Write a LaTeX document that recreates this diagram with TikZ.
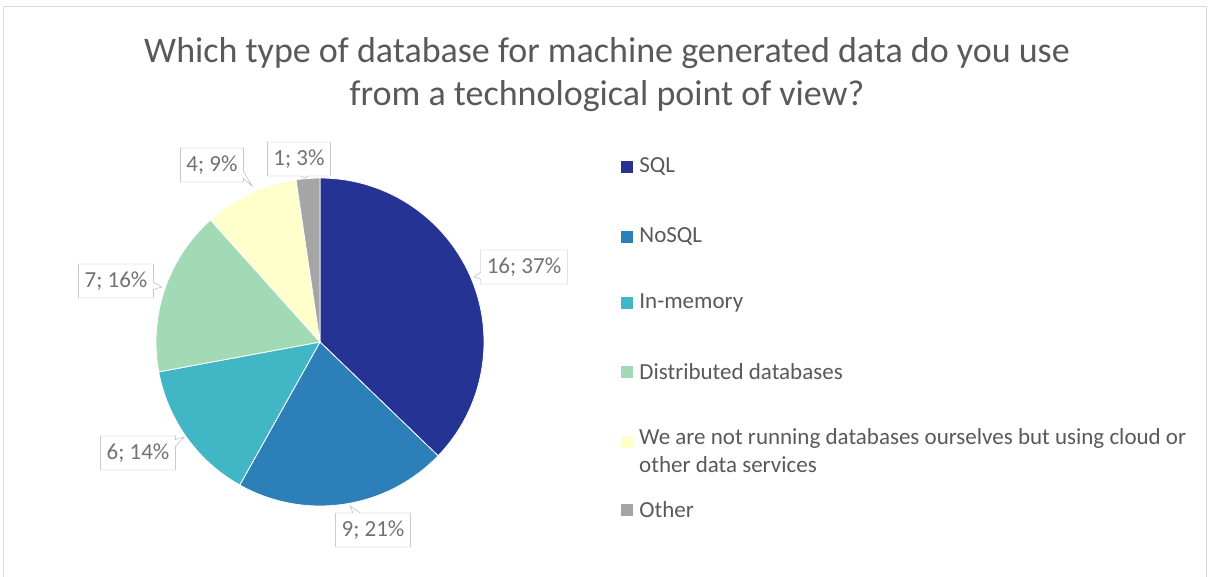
\documentclass[tikz,border=0pt]{standalone}
\usepackage{fontspec}
\setmainfont{Carlito}
\usetikzlibrary{positioning,shapes.callouts}
\definecolor{csql}{HTML}{253494}
\definecolor{cnosql}{HTML}{2C7FB8}
\definecolor{cmem}{HTML}{41B6C4}
\definecolor{cdist}{HTML}{A1DAB4}
\definecolor{ccloud}{HTML}{FFFFCC}
\definecolor{cother}{HTML}{A5A5A5}
\definecolor{ctext}{HTML}{595959}
\definecolor{cframe}{HTML}{D9D9D9}
\begin{document}
\begin{tikzpicture}[x=1pt,y=1pt,
  slice/.style={draw=white,line width=0.8pt},
  lbl/.style={rectangle callout,draw=cframe!80!black,fill=white,text=ctext!85,
              font=\fontsize{23}{28}\selectfont,inner xsep=6pt,inner ysep=2pt,
              minimum height=34pt},
  key/.style={minimum size=12pt,inner sep=0pt},
  item/.style={text=ctext,font=\fontsize{23}{28}\selectfont,align=left,inner sep=0pt},
  ttl/.style={text=ctext,font=\fontsize{36}{43}\selectfont,align=center}]
\useasboundingbox (0,0) rectangle (1209,577);
\draw[cframe] (3,0) |- (1206,571) -- (1206,0);
% title
\node[ttl] (title) at (607,502) {Which type of database for machine generated data do you use\\from a technological point of view?};
% pie
\coordinate (c) at (320,235);
\fill[csql,slice]   (c) -- ++(90:164)     arc[start angle=90,end angle=-43.95,radius=164] -- cycle;
\fill[cnosql,slice] (c) -- ++(-43.95:164) arc[start angle=-43.95,end angle=-119.3,radius=164] -- cycle;
\fill[cmem,slice]   (c) -- ++(-119.3:164) arc[start angle=-119.3,end angle=-169.5,radius=164] -- cycle;
\fill[cdist,slice]  (c) -- ++(-169.5:164) arc[start angle=-169.5,end angle=-228.1,radius=164] -- cycle;
\fill[ccloud,slice] (c) -- ++(131.9:164)  arc[start angle=131.9,end angle=98.4,radius=164] -- cycle;
\fill[cother,slice] (c) -- ++(98.4:164)   arc[start angle=98.4,end angle=90,radius=164] -- cycle;
% data labels
\coordinate (p1) at (474,300);
\coordinate (p2) at (350,71);
\coordinate (p3) at (184,140);
\coordinate (p4) at (162,290);
\coordinate (p5) at (252,391);
\coordinate (p6) at (305,399);
\node[lbl,callout absolute pointer={(p1)}] (l1) at (524,310) {16; 37\%};
\node[lbl,callout absolute pointer={(p2)}] (l2) at (373,47)  {9; 21\%};
\node[lbl,callout absolute pointer={(p3)}] (l3) at (138,124) {6; 14\%};
\node[lbl,callout absolute pointer={(p4)}] (l4) at (116,296) {7; 16\%};
\node[lbl,callout absolute pointer={(p5)}] (l5) at (212,412) {4; 9\%};
\node[lbl,callout absolute pointer={(p6)}] (l6) at (299,418) {1; 3\%};
% legend
\node[key,fill=csql]   (k1) at (627,410) {};
\node[key,fill=cnosql] (k2) at (627,340) {};
\node[key,fill=cmem]   (k3) at (627,274) {};
\node[key,fill=cdist]  (k4) at (627,205) {};
\node[key,fill=ccloud] (k5) at (627,135) {};
\node[key,fill=cother] (k6) at (627,67)  {};
\node[item,right=6pt of k1] (t1) {SQL};
\node[item,right=6pt of k2] (t2) {NoSQL};
\node[item,right=6pt of k3] (t3) {In-memory};
\node[item,right=6pt of k4] (t4) {Distributed databases};
\node[item,anchor=north west] (t5) at (639,149) {We are not running databases ourselves but using cloud or\\other data services};
\node[item,right=6pt of k6] (t6) {Other};
\end{tikzpicture}
\end{document}
